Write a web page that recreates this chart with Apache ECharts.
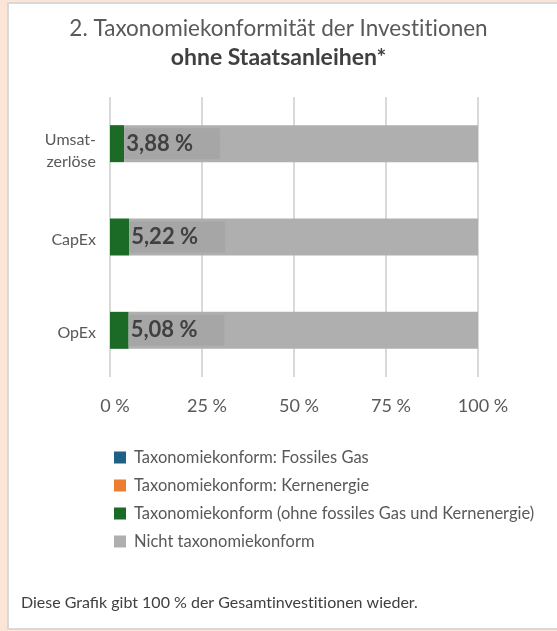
<!DOCTYPE html>
<html>
<head>
<meta charset="utf-8">
<script src="https://cdn.jsdelivr.net/npm/echarts@6/dist/echarts.min.js"></script>
<style>
  html, body { margin: 0; padding: 0; background: #fce4d6; }
  #panel { position: absolute; left: 7px; top: 2px; width: 600px; height: 624px;
           background: #fff; border: 2px solid #d9d9d9; }
  #chart { position: absolute; left: 0; top: 0; width: 557px; height: 631px; }
</style>
</head>
<body>
<div id="panel"></div>
<div id="chart"></div>
<script>
// Kategorien und Werte (in %)
const categories = ['Umsatzerlöse', 'CapEx', 'OpEx']
const fossilGas = [0, 0, 0]
const nuclear = [0, 0, 0]
const aligned = [3.88, 5.22, 5.08]
const notAligned = [96.12, 94.78, 94.92]
const xTicks = [0, 25, 50, 75, 100]

const font = 'Lato'
const chart = echarts.init(document.getElementById('chart'))

// Lato setzt "ti" als Ligatur, das sieht im Canvas komisch aus
const noLig = s => s.replace(/ti/g, 't\u200Ci')
const fmt = v => v.toFixed(2).replace('.', ',') + ' %'

const bar = (name, data, color, extra) => Object.assign({
  name: name,
  type: 'bar',
  stack: 'total',
  data: data,
  barWidth: 37,
  itemStyle: {color: color},
  emphasis: {disabled: true}
}, extra || {})

chart.setOption({
  animation: false,
  textStyle: {fontFamily: font},
  title: {
    text: noLig('2. Taxonomiekonformität der Investitionen'),
    subtext: 'ohne Staatsanleihen*',
    left: 'center',
    top: 12,
    itemGap: 6,
    textStyle: {fontSize: 22.5, fontWeight: 'normal', color: '#595959', fontFamily: font},
    subtextStyle: {fontSize: 23, fontWeight: 'bold', color: '#404040', fontFamily: font}
  },
  grid: {left: 110, right: 79, top: 97, bottom: 254, containLabel: false},
  xAxis: {
    type: 'value',
    min: xTicks[0],
    max: xTicks[xTicks.length - 1],
    interval: 25,
    axisLine: {show: false},
    axisTick: {show: false},
    splitLine: {lineStyle: {color: '#d9d9d9', width: 2}},
    axisLabel: {
      formatter: v => v + ' %',
      fontSize: 18,
      color: '#595959',
      margin: 20,
      padding: [0, 0, 0, 10]
    }
  },
  yAxis: {
    type: 'category',
    inverse: true,
    data: categories,
    axisLine: {show: false},
    axisTick: {show: false},
    axisLabel: {
      // leere Zeile oben schiebt die Beschriftung etwas nach unten, wie im Original
      formatter: v => v === 'Umsatzerlöse'
        ? '{s| }\n{t|Umsat-}\n{t|zerlöse}'
        : '{g| }\n{t|' + v + '}',
      color: '#595959',
      margin: 14,
      align: 'right',
      rich: {
        s: {fontSize: 1, lineHeight: 15},
        g: {fontSize: 1, lineHeight: 6},
        t: {fontSize: 16, lineHeight: 22, color: '#595959', align: 'right'}
      }
    }
  },
  legend: {
    orient: 'vertical',
    left: 109,
    top: 444,
    itemWidth: 12,
    itemHeight: 12,
    itemGap: 11,
    icon: 'rect',
    textStyle: {fontSize: 16.5, color: '#595959', padding: [0, 0, 0, 3]},
    data: [
      'Taxonomiekonform: Fossiles Gas',
      'Taxonomiekonform: Kernenergie',
      'Taxonomiekonform (ohne fossiles Gas und Kernenergie)',
      'Nicht taxonomiekonform'
    ]
  },
  graphic: [{
    type: 'text',
    left: 21,
    top: 595,
    style: {
      text: noLig('Diese Grafik gibt 100 % der Gesamtinvestitionen wieder.'),
      fontSize: 16,
      fontFamily: font,
      fill: '#404040'
    }
  }],
  series: [
    bar('Taxonomiekonform: Fossiles Gas', fossilGas, '#1f6185'),
    bar('Taxonomiekonform: Kernenergie', nuclear, '#ed7d31'),
    bar('Taxonomiekonform (ohne fossiles Gas und Kernenergie)', aligned, '#1b6b27'),
    bar('Nicht taxonomiekonform', notAligned, '#afafaf', {
      label: {
        show: true,
        position: 'insideLeft',
        distance: 0,
        formatter: p => fmt(aligned[p.dataIndex]),
        fontSize: 22,
        fontWeight: 'bold',
        color: '#404040',
        backgroundColor: '#a6a6a6',
        padding: [5, 27, 4, 2]
      }
    })
  ]
})
</script>
</body>
</html>
